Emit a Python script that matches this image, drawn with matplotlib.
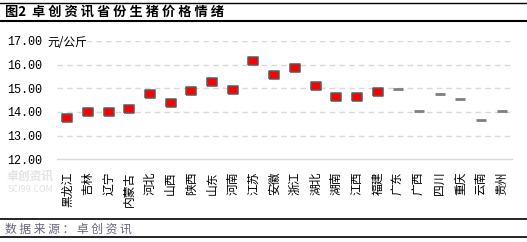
import matplotlib
matplotlib.use("Agg")
import matplotlib.pyplot as plt
from matplotlib.lines import Line2D
import numpy as np

plt.rcParams['font.family'] = ['Noto Sans CJK SC', 'DejaVu Sans']

provinces = ['黑龙江', '吉林', '辽宁', '内蒙古', '河北', '山西', '陕西', '山东', '河南', '江苏',
             '安徽', '浙江', '湖北', '湖南', '江西', '福建', '广东', '广西', '四川', '重庆', '云南', '贵州']
prices_main = [13.76, 14.01, 14.01, 14.14, 14.75, 14.39, 14.90, 15.25, 14.92, 16.15,
               15.57, 15.86, 15.11, 14.64, 14.64, 14.84]
prices_other = [14.97, 14.04, 14.77, 14.55, 13.66, 14.04]
y_ticks = [12, 13, 14, 15, 16, 17]
y_unit = '元/公斤'
title = '图2  ' + ' '.join('卓创资讯省份生猪价格情绪')
source = ' '.join('数据来源：卓创资讯')

W, H = 527, 242
fig = plt.figure(figsize=(W / 100, H / 100), dpi=100)
ax = fig.add_axes([57 / W, 1 - 159.4 / H, (512 - 57) / W, (159.4 - 40.8) / H])

x_main = np.arange(len(prices_main))
x_other = np.arange(len(prices_main), len(provinces))

rect = [(-1, -0.75), (1, -0.75), (1, 0.75), (-1, 0.75), (-1, -0.75)]
ax.plot(x_main, prices_main, linestyle='none', marker=rect, markersize=7,
        markerfacecolor='#ff0000', markeredgecolor='#595959', markeredgewidth=1.1)
ax.plot(x_other, prices_other, linestyle='none', marker='_', markersize=7,
        markeredgewidth=2, color='#7f7f7f')

ax.set_xlim(-0.5, len(provinces) - 0.5)
ax.set_ylim(12, 17)
ax.set_yticks(y_ticks)
ax.set_yticklabels([f'{v:.2f}' for v in y_ticks], fontsize=8.5, family=['Liberation Mono', 'DejaVu Sans Mono'])
ax.set_xticks(np.arange(len(provinces)))
ax.set_xticklabels(provinces, rotation=90, fontsize=8.5, va='top', ha='center')
ax.tick_params(axis='both', length=0)
ax.tick_params(axis='y', pad=11)
ax.tick_params(axis='x', pad=9)

for v in y_ticks[1:]:
    ax.axhline(v, color='#d9d9d9', linewidth=1, linestyle=(0, (4, 3)), zorder=0)
for s in ['top', 'right', 'left']:
    ax.spines[s].set_visible(False)
ax.spines['bottom'].set_color('#d9d9d9')
ax.spines['bottom'].set_linewidth(1)

# unit label
fig.text(47 / W, 1 - 43 / H, y_unit, fontsize=8.5, va='center', ha='left')

# title and frame lines
fig.text(5 / W, 1 - 12 / H, title, fontsize=9.5, fontweight='bold', va='center', ha='left')
for yy, lw in [(3, 1.0), (21, 1.5), (219, 1.2), (237, 1.2)]:
    fig.add_artist(Line2D([0, 1], [1 - yy / H, 1 - yy / H], color='black', linewidth=lw,
                          transform=fig.transFigure))
fig.text(5 / W, 1 - 229 / H, source, fontsize=8.5, color='#666680', va='center', ha='left')

# watermark
fig.text(6 / W, 1 - 176 / H, '卓创资讯', fontsize=8.5, color='#e3e3e3', va='center', ha='left', fontweight='bold', zorder=0)
fig.text(8 / W, 1 - 189 / H, 'SCI99.COM', fontsize=6.5, color='#e3e3e3', va='center', ha='left', zorder=0)

fig.savefig('out.png', dpi=100)
